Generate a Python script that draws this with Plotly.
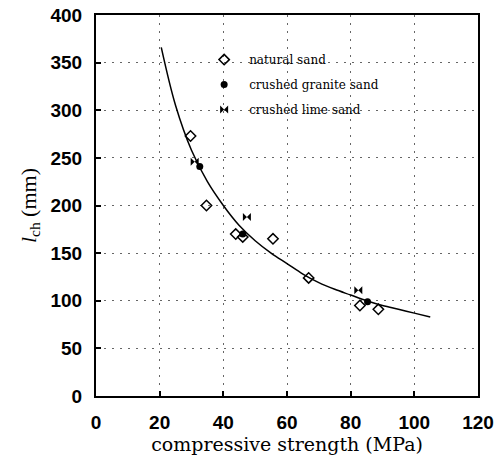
import plotly.graph_objects as go

# natural sand (open markers)
nat_x = [29.7, 34.7, 43.9, 46.1, 55.6, 66.8, 82.9, 88.7]
nat_y = [273, 200, 170, 167, 165, 124, 95, 91]
# crushed granite sand (filled markers)
gra_x = [32.6, 46.1, 85.3]
gra_y = [241, 170, 99]
# crushed lime sand
lim_x = [31.0, 47.4, 82.4]
lim_y = [246, 188, 111]
# fitted curve
fit_x = [20.5, 25, 30, 35, 40, 45, 50, 55, 60, 65, 70, 75, 80, 85, 90, 95, 100, 105]
fit_y = [366, 305, 258, 225, 200, 179, 163, 150, 139, 128, 119, 112, 106, 100, 95, 91, 87, 83]

x_ticks = [0, 20, 40, 60, 80, 100, 120]
y_ticks = [0, 50, 100, 150, 200, 250, 300, 350, 400]

fig = go.Figure()
fig.add_trace(go.Scatter(x=fit_x, y=fit_y, mode="lines", line=dict(color="black", width=1.5, shape="spline"),
                         showlegend=False, hoverinfo="skip"))
fig.add_trace(go.Scatter(x=nat_x, y=nat_y, mode="markers", name="natural sand", legendgroup="a",
                         marker=dict(symbol="diamond-open", size=8, color="black", line=dict(width=1.5))))
fig.add_trace(go.Scatter(x=gra_x, y=gra_y, mode="markers", name="crushed granite sand", legendgroup="b",
                         marker=dict(symbol="circle", size=7, color="black")))
fig.add_trace(go.Scatter(x=lim_x, y=lim_y, mode="markers", name="crushed lime sand", legendgroup="c",
                         marker=dict(symbol="bowtie", size=8, color="black")))

axis_common = dict(showline=True, linecolor="black", linewidth=2, mirror=True,
                   showgrid=True, gridcolor="#666", griddash="2px,6px", gridwidth=1,
                   ticks="inside", ticklen=5, tickcolor="black", tickwidth=1.5,
                   zeroline=False, ticklabelstandoff=8, automargin=False,
                   ticklabeloverflow="allow",
                   tickfont=dict(family="Liberation Sans, Arial", size=19, color="black", weight="bold"))

fig.update_xaxes(range=[0, 120], tickvals=x_ticks, **axis_common,
                 title=dict(text="compressive strength (MPa)",
                            font=dict(family="DejaVu Serif", size=19, color="black"),
                            standoff=6))
fig.update_yaxes(range=[0, 400], tickvals=y_ticks, **axis_common,
                 title=dict(text="<i>l</i><sub>ch</sub> (mm)",
                            font=dict(family="Liberation Serif, Times New Roman", size=22, color="black"),
                            standoff=8))

fig.update_layout(
    width=503, height=464,
    margin=dict(l=96, r=25, t=15, b=68),
    paper_bgcolor="white", plot_bgcolor="white",
    legend=dict(x=0.27, y=0.921, xanchor="left", yanchor="top", bgcolor="rgba(0,0,0,0)",
                font=dict(family="DejaVu Serif", size=12, color="black"),
                tracegroupgap=6, itemwidth=40),
)

fig.write_html("out.html", config={"displayModeBar": False},
               post_script="document.body.style.margin='0';")
